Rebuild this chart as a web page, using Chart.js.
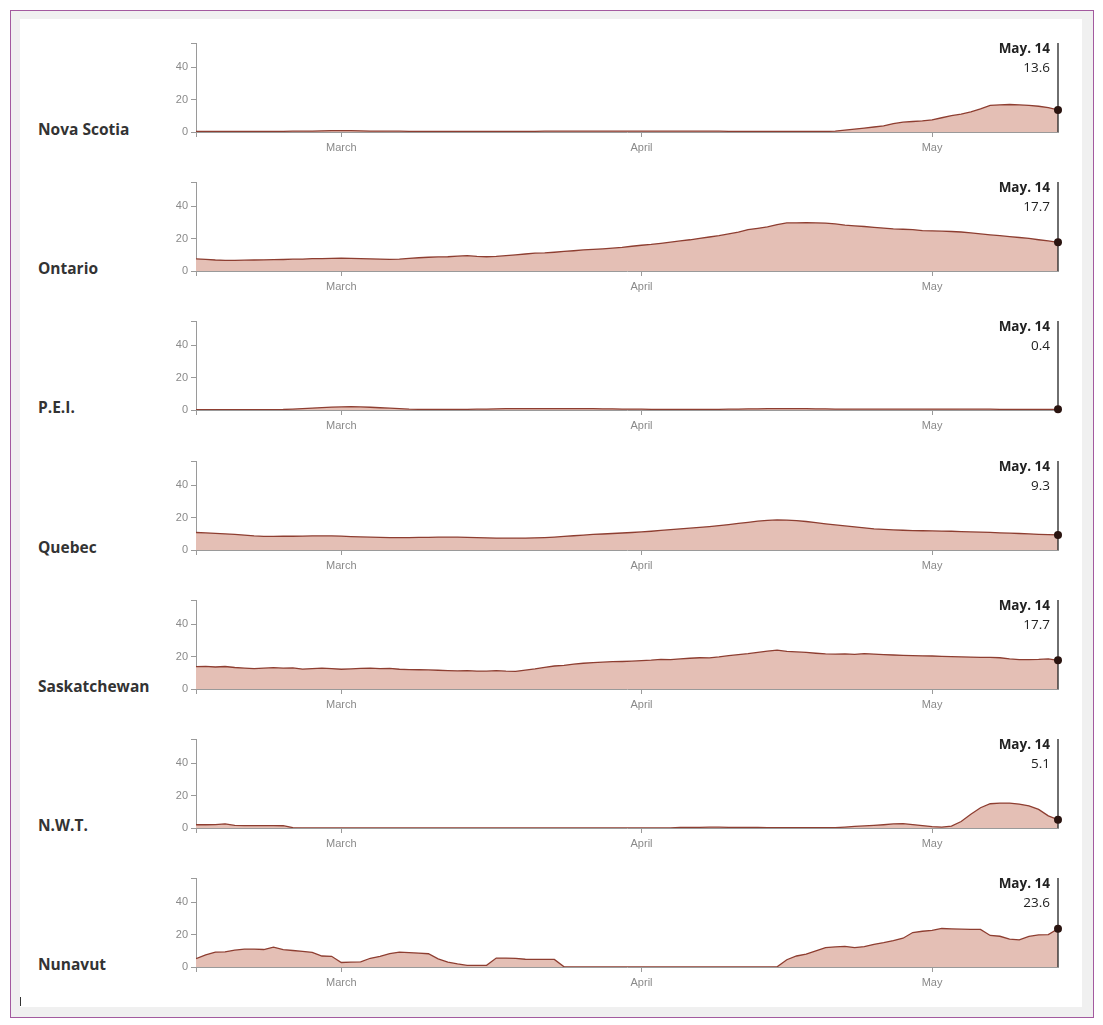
<!DOCTYPE html>
<html lang="en">
<head>
    <meta charset="UTF-8">
    <title>Daily cases per 100,000</title>
    <script src="https://cdn.jsdelivr.net/npm/chart.js@4.4.1/dist/chart.umd.min.js"></script>
    <style>
        body { margin: 0; background: #fff; width: 1103px; height: 1025px; position: relative; overflow: hidden; }
        #frame { position: absolute; left: 10px; top: 10px; width: 1082px; height: 1006px; border: 1px solid #a35a9f; background: #f0f0f0; }
        #inner { position: absolute; left: 20px; top: 19px; width: 1062px; height: 988px; background: #fff; }
        .prov { position: absolute; left: 38px; font: 700 15.5px "Open Sans", sans-serif; color: #333; line-height: 20px; }
        canvas { position: absolute; left: 150px; }
        #cursor { position: absolute; left: 20px; top: 997px; width: 1px; height: 9px; background: #333; }
    </style>
</head>
<body>
    <div id="frame"></div>
    <div id="inner"></div>
    <div id="panels"></div>
    <div id="cursor"></div>
    <script>
        // days run from Feb. 14 to May. 14, one value per day
        const startDate = new Date(2021, 1, 14);
        const dayCount = 90;
        const monthStarts = [15, 46, 76];
        const monthLabels = ['March', 'April', 'May'];
        const yTicks = [0, 20, 40];
        const yMax = 55;

        const provinces = ['Nova Scotia', 'Ontario', 'P.E.I.', 'Quebec', 'Saskatchewan', 'N.W.T.', 'Nunavut'];

        const novaScotia = [
            0.3, 0.3, 0.3, 0.3, 0.3, 0.3, 0.3, 0.4, 0.4, 0.4, 0.5, 0.5, 0.6, 0.7, 0.8, 0.8, 0.8, 0.7, 0.6, 0.6,
            0.5, 0.5, 0.4, 0.4, 0.4, 0.3, 0.3, 0.3, 0.3, 0.3, 0.3, 0.3, 0.4, 0.4, 0.4, 0.4, 0.5, 0.5, 0.5, 0.5,
            0.5, 0.5, 0.5, 0.5, 0.5, 0.5, 0.5, 0.5, 0.5, 0.5, 0.5, 0.5, 0.5, 0.5, 0.5, 0.4, 0.4, 0.4, 0.4, 0.4,
            0.4, 0.4, 0.4, 0.4, 0.3, 0.3, 0.6, 1.2, 1.8, 2.4, 3.1, 3.8, 5.2, 6.1, 6.5, 6.9, 7.5, 8.8, 10.1, 11.0,
            12.4, 14.3, 16.4, 16.8, 17.0, 16.8, 16.4, 15.9, 15.1, 13.6
        ];
        const ontario = [
            7.5, 7.2, 6.8, 6.6, 6.6, 6.7, 6.8, 6.9, 7.0, 7.1, 7.3, 7.4, 7.6, 7.7, 7.8, 7.9, 7.8, 7.6, 7.5, 7.4,
            7.2, 7.3, 7.8, 8.2, 8.5, 8.7, 8.8, 9.2, 9.5, 9.0, 8.8, 9.0, 9.5, 10.0, 10.5, 11.0, 11.2, 11.6, 12.1, 12.5,
            13.0, 13.4, 13.7, 14.1, 14.6, 15.3, 15.9, 16.4, 17.1, 17.8, 18.6, 19.3, 20.2, 21.0, 21.8, 22.9, 24.0, 25.6, 26.4, 27.3,
            28.6, 29.7, 29.8, 29.9, 29.8, 29.6, 29.1, 28.3, 27.9, 27.5, 27.0, 26.5, 26.0, 25.8, 25.6, 25.0, 24.8, 24.6, 24.4, 24.1,
            23.6, 22.9, 22.3, 21.8, 21.2, 20.7, 20.1, 19.3, 18.6, 17.7
        ];
        const pei = [
            0.2, 0.2, 0.2, 0.2, 0.2, 0.2, 0.2, 0.2, 0.2, 0.3, 0.6, 0.9, 1.2, 1.5, 1.8, 1.9, 2.0, 1.9, 1.7, 1.4,
            1.1, 0.8, 0.5, 0.4, 0.3, 0.3, 0.3, 0.3, 0.4, 0.5, 0.6, 0.7, 0.8, 0.8, 0.9, 0.9, 0.9, 0.9, 0.9, 0.8,
            0.8, 0.8, 0.7, 0.7, 0.6, 0.6, 0.5, 0.4, 0.3, 0.3, 0.3, 0.3, 0.3, 0.3, 0.4, 0.5, 0.6, 0.7, 0.7, 0.8,
            0.8, 0.8, 0.8, 0.8, 0.7, 0.7, 0.6, 0.6, 0.5, 0.5, 0.5, 0.5, 0.5, 0.5, 0.5, 0.5, 0.6, 0.6, 0.6, 0.5,
            0.5, 0.5, 0.5, 0.4, 0.4, 0.4, 0.4, 0.4, 0.4, 0.4
        ];
        const quebec = [
            10.8, 10.6, 10.3, 10.0, 9.6, 9.2, 8.7, 8.4, 8.4, 8.5, 8.5, 8.6, 8.7, 8.7, 8.7, 8.6, 8.3, 8.1, 7.9, 7.8,
            7.7, 7.7, 7.7, 7.8, 7.8, 7.9, 7.9, 7.9, 7.8, 7.6, 7.5, 7.4, 7.3, 7.3, 7.4, 7.5, 7.7, 8.0, 8.4, 8.8,
            9.2, 9.6, 9.9, 10.2, 10.5, 10.8, 11.2, 11.6, 12.1, 12.6, 13.1, 13.5, 14.0, 14.5, 15.1, 15.7, 16.4, 17.1, 17.8, 18.3,
            18.6, 18.5, 18.2, 17.6, 16.9, 16.2, 15.5, 14.9, 14.3, 13.7, 13.1, 12.7, 12.4, 12.2, 12.0, 11.9, 11.8, 11.7, 11.6, 11.4,
            11.2, 11.1, 10.9, 10.6, 10.4, 10.2, 10.0, 9.7, 9.5, 9.3
        ];
        const saskatchewan = [
            13.8, 14.0, 13.6, 13.9, 13.3, 12.9, 12.6, 12.9, 13.2, 12.9, 13.0, 12.3, 12.6, 12.9, 12.6, 12.2, 12.4, 12.7, 12.9, 12.6,
            12.8, 12.2, 12.0, 11.9, 11.8, 11.6, 11.4, 11.2, 11.4, 11.1, 11.0, 11.3, 11.0, 10.9, 11.6, 12.4, 13.4, 14.2, 14.6, 15.4,
            15.9, 16.3, 16.6, 16.9, 17.0, 17.2, 17.5, 17.8, 18.3, 18.2, 18.6, 19.0, 19.3, 19.2, 19.8, 20.6, 21.2, 21.8, 22.6, 23.4,
            24.0, 23.2, 22.9, 22.6, 22.1, 21.7, 21.5, 21.7, 21.4, 21.9, 21.6, 21.3, 21.0, 20.8, 20.6, 20.5, 20.4, 20.2, 20.0, 19.9,
            19.7, 19.6, 19.5, 19.3, 18.6, 18.1, 18.2, 18.3, 18.6, 17.7
        ];
        const nwt = [
            2.0, 2.0, 2.1, 2.6, 1.6, 1.5, 1.5, 1.5, 1.5, 1.4, 0.2, 0.0, 0.0, 0.0, 0.0, 0.0, 0.0, 0.0, 0.0, 0.0,
            0.0, 0.0, 0.0, 0.0, 0.0, 0.0, 0.0, 0.0, 0.0, 0.0, 0.0, 0.0, 0.0, 0.0, 0.0, 0.0, 0.0, 0.0, 0.0, 0.0,
            0.0, 0.0, 0.0, 0.0, 0.0, 0.0, 0.0, 0.0, 0.0, 0.0, 0.4, 0.4, 0.4, 0.5, 0.5, 0.4, 0.4, 0.4, 0.4, 0.2,
            0.2, 0.2, 0.2, 0.2, 0.2, 0.2, 0.2, 0.6, 1.0, 1.3, 1.6, 2.0, 2.5, 2.7, 2.1, 1.5, 0.9, 0.6, 1.2, 4.0,
            8.5, 12.5, 15.0, 15.4, 15.4, 14.8, 13.7, 11.5, 7.5, 5.1
        ];
        const nunavut = [
            5.1, 7.5, 9.2, 9.4, 10.4, 11.0, 11.1, 10.8, 12.3, 10.7, 10.2, 9.6, 9.1, 6.8, 6.6, 2.8, 3.0, 3.2, 5.4, 6.6,
            8.2, 9.2, 8.9, 8.6, 8.2, 5.0, 3.0, 1.9, 1.0, 1.0, 1.0, 5.5, 5.5, 5.3, 4.8, 4.7, 4.7, 4.7, 0.1, 0.0,
            0.0, 0.0, 0.0, 0.0, 0.0, 0.0, 0.0, 0.0, 0.0, 0.0, 0.0, 0.0, 0.0, 0.0, 0.0, 0.0, 0.0, 0.0, 0.0, 0.0,
            0.1, 4.5, 6.8, 8.0, 10.0, 12.0, 12.4, 12.8, 12.0, 12.6, 14.0, 15.0, 16.3, 17.8, 21.3, 22.1, 22.6, 23.8, 23.6, 23.4,
            23.3, 23.2, 19.5, 19.0, 17.2, 16.8, 18.9, 19.8, 20.0, 23.6
        ];
        const series = [novaScotia, ontario, pei, quebec, saskatchewan, nwt, nunavut];

        const monthShort = ['Jan', 'Feb', 'Mar', 'Apr', 'May', 'Jun', 'Jul', 'Aug', 'Sep', 'Oct', 'Nov', 'Dec'];
        const dates = [];
        for (let i = 0; i < dayCount; i++) {
            const d = new Date(startDate);
            d.setDate(d.getDate() + i);
            dates.push(monthShort[d.getMonth()] + '. ' + d.getDate());
        }

        const fillColor = '#e4bfb5';
        const lineColor = '#8e3e31';
        const axisColor = '#9a9a9a';
        const tickFont = { family: '"Liberation Sans", Arial, sans-serif', size: 11 };

        // last-day marker: vertical rule, dot and the date / value label
        const lastDayPlugin = {
            id: 'lastDay',
            afterDatasetsDraw(chart) {
                const meta = chart.getDatasetMeta(0);
                const pt = meta.data[meta.data.length - 1];
                const area = chart.chartArea;
                const values = chart.data.datasets[0].data;
                const ctx = chart.ctx;
                ctx.save();
                ctx.strokeStyle = '#222';
                ctx.lineWidth = 1.3;
                ctx.beginPath();
                ctx.moveTo(pt.x, area.top);
                ctx.lineTo(pt.x, area.bottom);
                ctx.stroke();
                ctx.fillStyle = '#2a1410';
                ctx.beginPath();
                ctx.arc(pt.x, pt.y, 4, 0, Math.PI * 2);
                ctx.fill();
                ctx.textAlign = 'right';
                ctx.textBaseline = 'middle';
                ctx.fillStyle = '#222';
                ctx.font = '700 13.5px "Open Sans", sans-serif';
                ctx.fillText(dates[dates.length - 1], pt.x - 8, area.top + 6);
                ctx.font = '400 13.5px "Open Sans", sans-serif';
                ctx.fillText(values[values.length - 1].y.toFixed(1), pt.x - 8, area.top + 25);
                ctx.restore();
            }
        };

        const panelGap = 139.2;
        const firstZero = 132;

        function makePanel(k) {
            const zeroY = firstZero + panelGap * k;
            const label = document.createElement('div');
            label.className = 'prov';
            label.textContent = provinces[k];
            label.style.top = (zeroY - 13) + 'px';
            document.getElementById('panels').appendChild(label);

            const canvas = document.createElement('canvas');
            canvas.width = 930;
            canvas.height = 130;
            canvas.style.top = Math.round(zeroY - 102) + 'px';
            document.getElementById('panels').appendChild(canvas);

            const points = series[k].map((v, i) => ({ x: i, y: v }));

            new Chart(canvas.getContext('2d'), {
                type: 'line',
                data: {
                    datasets: [{
                        data: points,
                        borderColor: lineColor,
                        borderWidth: 1.3,
                        backgroundColor: fillColor,
                        fill: 'origin',
                        pointRadius: 0,
                        tension: 0
                    }]
                },
                options: {
                    responsive: false,
                    animation: false,
                    events: [],
                    layout: { padding: { top: 13, right: 22, left: 0, bottom: 0 } },
                    plugins: { legend: { display: false }, tooltip: { enabled: false } },
                    scales: {
                        x: {
                            type: 'linear',
                            min: 0,
                            max: dayCount - 1,
                            afterBuildTicks: s => { s.ticks = [0].concat(monthStarts).map(v => ({ value: v })); },
                            afterFit: s => { s.height = 28; },
                            border: { color: axisColor, width: 1 },
                            grid: { drawOnChartArea: false, drawTicks: true, tickLength: 5, color: axisColor },
                            ticks: {
                                autoSkip: false,
                                maxRotation: 0,
                                padding: 4,
                                color: '#8a8a8a',
                                font: tickFont,
                                callback: v => {
                                    const j = monthStarts.indexOf(v);
                                    return j >= 0 ? monthLabels[j] : '';
                                }
                            }
                        },
                        y: {
                            min: 0,
                            max: yMax,
                            afterBuildTicks: s => { s.ticks = yTicks.concat([yMax]).map(v => ({ value: v })); },
                            afterFit: s => { s.width = 46; },
                            border: { color: axisColor, width: 1 },
                            grid: { drawOnChartArea: false, drawTicks: true, tickLength: 5, color: axisColor },
                            ticks: {
                                padding: 3,
                                color: '#8a8a8a',
                                font: tickFont,
                                callback: v => yTicks.indexOf(v) >= 0 ? String(v) : ''
                            }
                        }
                    }
                },
                plugins: [lastDayPlugin]
            });
        }

        for (let k = 0; k < provinces.length; k++) makePanel(k);
    </script>
</body>
</html>
